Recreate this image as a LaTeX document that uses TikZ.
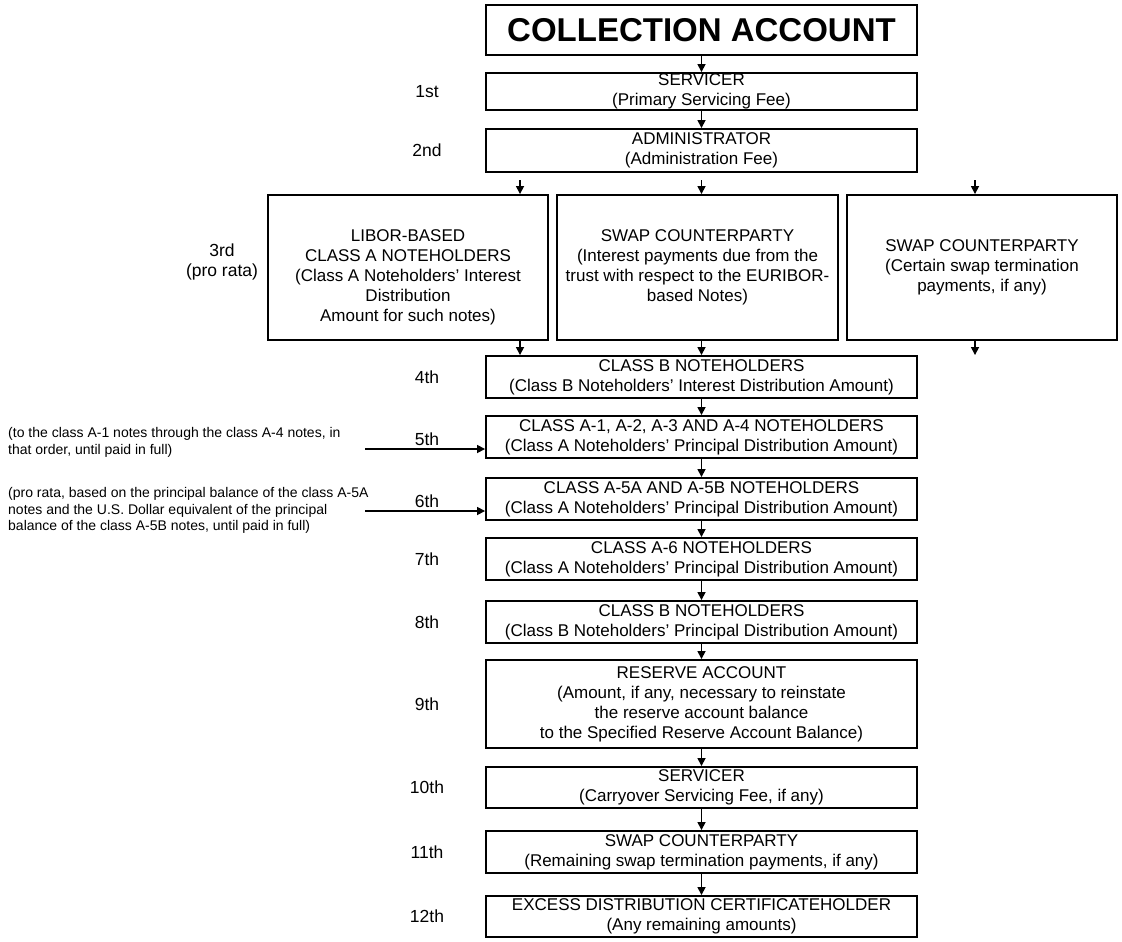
\documentclass[tikz,border=0pt]{standalone}
\usepackage{fontspec}
\setmainfont{Liberation Sans}
\usetikzlibrary{arrows.meta}
\begin{document}
\begin{tikzpicture}[x=1pt,y=-1pt,
  box/.style={draw,line width=1.9pt,inner sep=0pt,align=center,
    font=\fontsize{17}{20}\selectfont},
  boxtext/.style={inner sep=0pt,align=center,font=\fontsize{17}{20}\selectfont},
  lbl/.style={inner sep=0pt,align=center,font=\fontsize{17.5}{20}\selectfont},
  note/.style={inner sep=0pt,align=left,anchor=north west,font=\fontsize{14}{16.7}\selectfont},
  arr/.style={line width=1.6pt,-{Triangle[length=8pt,width=8pt]}}]
\useasboundingbox (0,0) rectangle (1122,942);
% main column
\node[box,minimum width=431pt,minimum height=50pt,font=\fontsize{33}{36}\selectfont\bfseries] (coll) at (701.5,30) {COLLECTION ACCOUNT};
\node[box,minimum width=431pt,minimum height=37pt] (s1) at (701.5,91.5) {SERVICER\\(Primary Servicing Fee)};
\node[box,minimum width=431pt,minimum height=43pt] (adm) at (701.5,150.5) {ADMINISTRATOR\\(Administration Fee)};
% third tier
\node[box,minimum width=280pt,minimum height=145pt] (l3) at (408,267.5) {};
\node[boxtext] (l3t) at (408,277) {LIBOR-BASED\\CLASS A NOTEHOLDERS\\(Class A Noteholders' Interest\\Distribution\\Amount for such notes)};
\node[box,minimum width=281pt,minimum height=145pt] (m3) at (697.5,267.5) {SWAP COUNTERPARTY\\(Interest payments due from the\\trust with respect to the EURIBOR-\\based Notes)};
\node[box,minimum width=270pt,minimum height=145pt] (r3) at (982,267.5) {SWAP COUNTERPARTY\\(Certain swap termination\\payments, if any)};
% lower column
\node[box,minimum width=431pt,minimum height=42pt] (cb) at (701.5,377) {CLASS B NOTEHOLDERS\\(Class B Noteholders' Interest Distribution Amount)};
\node[box,minimum width=431pt,minimum height=42pt] (a14) at (701.5,437) {CLASS A-1, A-2, A-3 AND A-4 NOTEHOLDERS\\(Class A Noteholders' Principal Distribution Amount)};
\node[box,minimum width=431pt,minimum height=42pt] (a5) at (701.5,499) {CLASS A-5A AND A-5B NOTEHOLDERS\\(Class A Noteholders' Principal Distribution Amount)};
\node[box,minimum width=431pt,minimum height=42pt] (a6) at (701.5,559) {CLASS A-6 NOTEHOLDERS\\(Class A Noteholders' Principal Distribution Amount)};
\node[box,minimum width=431pt,minimum height=42pt] (cb2) at (701.5,622) {CLASS B NOTEHOLDERS\\(Class B Noteholders' Principal Distribution Amount)};
\node[box,minimum width=431pt,minimum height=88pt] (res) at (701.5,704) {RESERVE ACCOUNT\\(Amount, if any, necessary to reinstate\\the reserve account balance\\to the Specified Reserve Account Balance)};
\node[box,minimum width=431pt,minimum height=41pt] (s10) at (701.5,787.5) {SERVICER\\(Carryover Servicing Fee, if any)};
\node[box,minimum width=431pt,minimum height=42pt] (sw11) at (701.5,852) {SWAP COUNTERPARTY\\(Remaining swap termination payments, if any)};
\node[box,minimum width=431pt,minimum height=41pt] (ex12) at (701.5,916.5) {EXCESS DISTRIBUTION CERTIFICATEHOLDER\\(Any remaining amounts)};
% labels
\node[lbl] (l1) at (427,91.5) {1st};
\node[lbl] (l2) at (427,150.5) {2nd};
\node[lbl] (l3l) at (222,262) {3rd\\(pro rata)};
\node[lbl] (l4) at (427,377) {4th};
\node[lbl] (l5) at (427,439) {5th};
\node[lbl] (l6) at (427,501) {6th};
\node[lbl] (l7) at (427,559) {7th};
\node[lbl] (l8) at (427,622) {8th};
\node[lbl] (l9) at (427,704) {9th};
\node[lbl] (l10) at (427,787.5) {10th};
\node[lbl] (l11) at (427,852) {11th};
\node[lbl] (l12) at (427,916.5) {12th};
% notes
\node[note] (n5) at (8,427) {(to the class A-1 notes through the class A-4 notes, in\\that order, until paid in full)};
\node[note] (n6) at (8,487) {(pro rata, based on the principal balance of the class A-5A\\notes and the U.S. Dollar equivalent of the principal\\balance of the class A-5B notes, until paid in full)};
% arrows
\draw[arr] (coll) -- (s1);
\draw[arr] (s1) -- (adm);
\coordinate (t1) at (520,180);
\coordinate (t2) at (701.5,180);
\coordinate (t3) at (975,180);
\draw[arr] (t1) -- (t1 |- l3.north);
\draw[arr] (t2) -- (t2 |- m3.north);
\draw[arr] (t3) -- (t3 |- r3.north);
\draw[arr] (l3.south -| t1) -- (cb.north -| t1);
\draw[arr] (m3.south -| t2) -- (cb.north -| t2);
\draw[arr] (r3.south -| t3) -- (cb.north -| t3);
\draw[arr] (cb) -- (a14);
\draw[arr] (a14) -- (a5);
\draw[arr] (a5) -- (a6);
\draw[arr] (a6) -- (cb2);
\draw[arr] (cb2) -- (res);
\draw[arr] (res) -- (s10);
\draw[arr] (s10) -- (sw11);
\draw[arr] (sw11) -- (ex12);
\coordinate (f5) at (365,449);
\coordinate (f6) at (365,511);
\draw[arr] (f5) -- (f5 -| a14.west);
\draw[arr] (f6) -- (f6 -| a5.west);
\end{tikzpicture}
\end{document}
